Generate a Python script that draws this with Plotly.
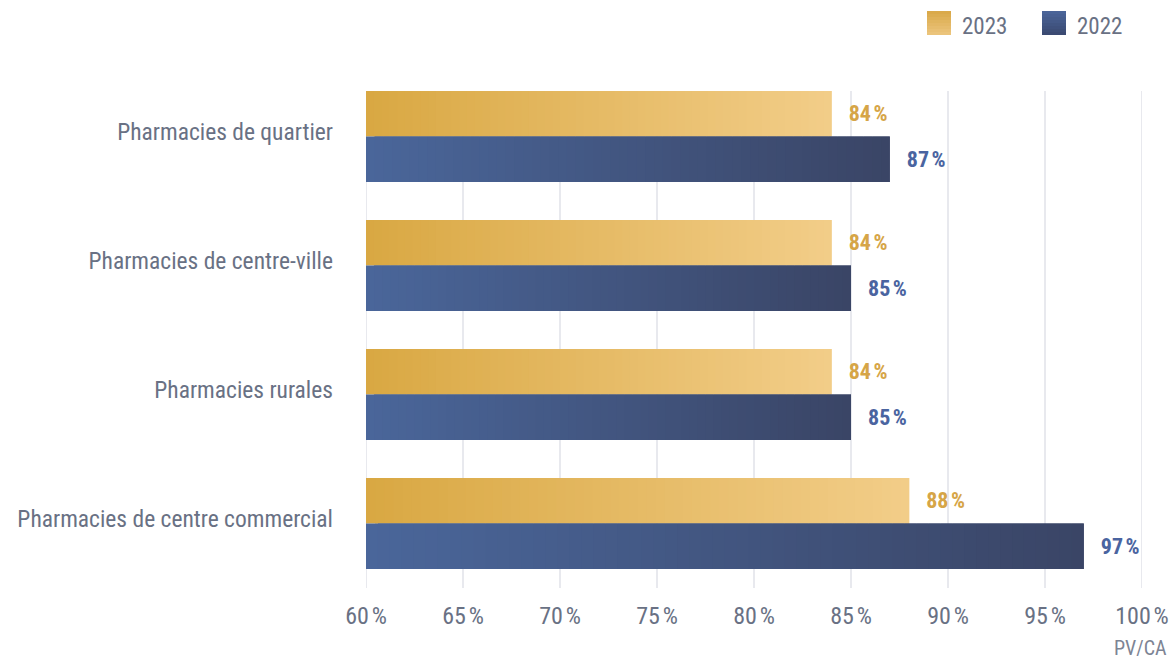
import plotly.graph_objects as go

# ---- data -------------------------------------------------------------
categories = [
    "Pharmacies de quartier",
    "Pharmacies de centre-ville",
    "Pharmacies rurales",
    "Pharmacies de centre commercial",
]
values_2023 = [84, 84, 84, 88]
values_2022 = [87, 85, 85, 97]
x_ticks = [60, 65, 70, 75, 80, 85, 90, 95, 100]
x_tick_labels = [f"{t}\u202f%" for t in x_ticks]

# ---- style ------------------------------------------------------------
FONT = "Roboto Condensed, Roboto, sans-serif"
TEXT_GREY = "#697184"
GOLD_START, GOLD_END = "#D9A843", "#F2CD88"
BLUE_START, BLUE_END = "#4A669A", "#3A4566"
GOLD_LABEL, BLUE_LABEL = "#D6A547", "#4A64A0"
GRID = "#e1e2e8"
AXIS_MIN, AXIS_MAX = 60, 100
BAND = 129                 # pixel height of one category band
BARGAP = 38 / BAND         # two 45.5 px bars per band
STEPS = 60                 # colour steps used for each gradient bar

W, H = 1175, 659
M_L, M_R, M_T = 366, 33, 72
PLOT_H = BAND * len(categories)
M_B = H - M_T - PLOT_H


def hex_to_rgb(h):
    h = h.lstrip("#")
    return tuple(int(h[i:i + 2], 16) for i in (0, 2, 4))


def mix(c1, c2, t):
    a, b = hex_to_rgb(c1), hex_to_rgb(c2)
    return "rgb({},{},{})".format(*[round(a[i] + (b[i] - a[i]) * t) for i in range(3)])


def gradient_bars(values, c_start, c_end, label_color):
    """One trace per series; each bar is built from short overlapping pieces
    shading from c_start at the axis to c_end at the bar end."""
    ys, bases, lengths, colors, texts = [], [], [], [], []
    for cat, v in zip(categories, values):
        step = (v - AXIS_MIN) / STEPS
        for k in range(STEPS):
            start = AXIS_MIN + step * k
            end = min(start + 2 * step, v)
            ys.append(cat)
            bases.append(start)
            lengths.append(end - start)
            colors.append(mix(c_start, c_end, k / (STEPS - 1)))
            texts.append(f"\u2002\u2009{v}\u202f%" if k == STEPS - 1 else "")
    return go.Bar(
        orientation="h",
        y=ys,
        x=lengths,
        base=bases,
        marker=dict(color=colors, line=dict(width=0)),
        text=texts,
        textposition="outside",
        textfont=dict(family=FONT, size=22, color=label_color, weight="bold"),
        constraintext="none",
        cliponaxis=False,
        hoverinfo="skip",
        showlegend=False,
    )


fig = go.Figure()
fig.add_trace(gradient_bars(values_2023, GOLD_START, GOLD_END, GOLD_LABEL))
fig.add_trace(gradient_bars(values_2022, BLUE_START, BLUE_END, BLUE_LABEL))

plot_w = W - M_L - M_R


def px_x(px):
    return (px - M_L) / plot_w


def px_y(py):
    return (H - M_B - py) / PLOT_H


shapes = []
# vertical grid lines, from the top of the first bar down to the axis
for t in x_ticks:
    shapes.append(dict(
        type="line", xref="x", yref="y", x0=t, x1=t,
        y0=len(categories) - 0.5, y1=-0.5 + BARGAP / 2,
        line=dict(color=GRID, width=1.5), layer="below",
    ))

annotations = []
# legend swatches with a soft vertical shading, plus their labels
legend_items = [("2023", 927, 962, "#DAA94A", "#EBC47B"),
                ("2022", 1042, 1077, "#4A6498", "#3B4A72")]
for label, sq_x, txt_x, top_c, bot_c in legend_items:
    strips = 8
    for s in range(strips):
        y_top = 11 + 24 * s / strips
        y_bot = 11 + 24 * (s + 1) / strips
        shapes.append(dict(
            type="rect", xref="paper", yref="paper",
            x0=px_x(sq_x), x1=px_x(sq_x + 24), y0=px_y(y_bot), y1=px_y(y_top),
            fillcolor=mix(top_c, bot_c, s / (strips - 1)), line=dict(width=0),
        ))
    annotations.append(dict(
        text=label, xref="paper", yref="paper", x=px_x(txt_x - 2), y=px_y(26),
        xanchor="left", yanchor="middle", showarrow=False,
        font=dict(family=FONT, size=23, color=TEXT_GREY),
    ))

annotations.append(dict(
    text="PV/CA", xref="paper", yref="paper", x=px_x(1169), y=px_y(648),
    xanchor="right", yanchor="middle", showarrow=False,
    font=dict(family=FONT, size=20, color="#7d8494"),
))

fig.update_layout(
    width=W, height=H,
    margin=dict(l=M_L, r=M_R, t=M_T, b=M_B, pad=0),
    paper_bgcolor="white", plot_bgcolor="white",
    barmode="group", bargap=BARGAP, bargroupgap=0,
    font=dict(family=FONT, color=TEXT_GREY),
    shapes=shapes, annotations=annotations,
    showlegend=False,
)
fig.update_xaxes(
    range=[AXIS_MIN, AXIS_MAX], tickvals=x_ticks, ticktext=x_tick_labels,
    showgrid=False, zeroline=False, showline=False, ticks="",
    tickfont=dict(family=FONT, size=24, color=TEXT_GREY),
    ticklabelstandoff=11, automargin=False,
)
fig.update_yaxes(
    type="category", categoryorder="array", categoryarray=categories,
    range=[len(categories) - 0.5, -0.5], showgrid=False, zeroline=False,
    showline=False, ticks="", tickfont=dict(family=FONT, size=23.5, color=TEXT_GREY),
    ticklabelstandoff=32, ticklabelshift=5, automargin=False,
)

fig.write_html("out.html")
